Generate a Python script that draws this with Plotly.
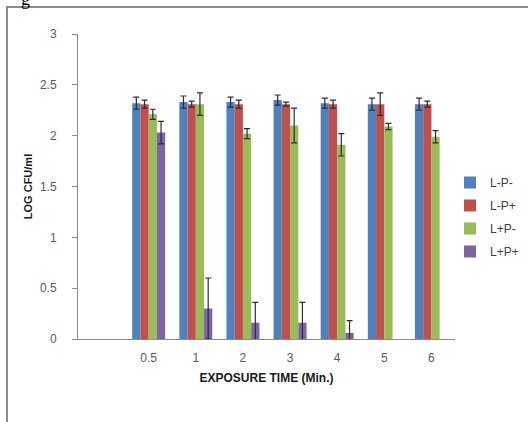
import plotly.graph_objects as go

categories = ["0.5", "1", "2", "3", "4", "5", "6"]
series_names = ["L-P-", "L-P+", "L+P-", "L+P+"]
lp_minus = [2.32, 2.33, 2.33, 2.35, 2.32, 2.31, 2.31]
lp_minus_err = [0.06, 0.06, 0.05, 0.05, 0.05, 0.06, 0.06]
lp_plus = [2.31, 2.31, 2.31, 2.31, 2.31, 2.31, 2.31]
lp_plus_err = [0.04, 0.03, 0.04, 0.02, 0.04, 0.11, 0.03]
lpl_minus = [2.21, 2.31, 2.02, 2.10, 1.91, 2.09, 1.99]
lpl_minus_err = [0.05, 0.11, 0.05, 0.17, 0.11, 0.03, 0.06]
lpl_plus = [2.03, 0.30, 0.16, 0.16, 0.06, None, None]
lpl_plus_err = [0.11, 0.30, 0.20, 0.20, 0.12, None, None]

colors = ["#4F81BD", "#C0504D", "#9BBB59", "#8064A2"]
values = [lp_minus, lp_plus, lpl_minus, lpl_plus]
errors = [lp_minus_err, lp_plus_err, lpl_minus_err, lpl_plus_err]

# first category slot is empty in the original chart
xpos = list(range(1, len(categories) + 1))

fig = go.Figure()
for name, vals, errs, col in zip(series_names, values, errors, colors):
    fig.add_trace(go.Bar(
        x=xpos, y=vals, name=name, legendgroup=name,
        marker_color=col, marker_line_width=0,
        error_y=dict(type="data", array=errs, visible=True,
                     color="#2a2a3a", thickness=1.2, width=3),
    ))

W, H = 528, 422
L, R, T, B = 78, 73, 34, 83
pw, ph = W - L - R, H - T - B

def px_x(p):
    return (p - L) / pw

def px_y(p):
    return (H - B - p) / ph

fig.update_layout(
    width=W, height=H,
    margin=dict(l=L, r=R, t=T, b=B, autoexpand=False),
    paper_bgcolor="white", plot_bgcolor="white",
    barmode="group", bargap=0.3, bargroupgap=0,
    font=dict(family="Liberation Sans, Arial, sans-serif", color="#595959", size=12),
    showlegend=True,
    legend=dict(x=px_x(450), xanchor="left", y=px_y(217), yanchor="middle",
                font=dict(size=12, color="#404040"), tracegroupgap=4,
                itemwidth=30, bgcolor="rgba(0,0,0,0)"),
    xaxis=dict(range=[-0.5, len(categories) + 0.5], tickmode="array",
               tickvals=xpos, ticktext=categories, showgrid=False,
               showline=True, linecolor="#8c8c8c", linewidth=1,
               ticks="", zeroline=False, ticklabelstandoff=8,
               title=dict(text="<b>EXPOSURE TIME (Min.)</b>",
                          font=dict(size=12, color="#1a1a1a"), standoff=9)),
    yaxis=dict(range=[0, 3], tickmode="array",
               tickvals=[0, 0.5, 1, 1.5, 2, 2.5, 3],
               ticktext=["0", "0.5", "1", "1.5", "2", "2.5", "3"],
               showgrid=False, showline=True, linecolor="#8c8c8c", linewidth=1,
               ticks="outside", ticklen=5, tickcolor="#8c8c8c", zeroline=False,
               ticklabelstandoff=13,
               title=dict(text="<b>LOG CFU/ml</b>",
                          font=dict(size=11, color="#1a1a1a"), standoff=5)),
    shapes=[dict(type="rect", xref="paper", yref="paper",
                 x0=px_x(7), x1=px_x(560), y0=px_y(440), y1=px_y(7),
                 line=dict(color="#8a8a8a", width=2), layer="below")],
    annotations=[dict(text="g", xref="paper", yref="paper",
                      x=px_x(25), y=px_y(-1), xanchor="center", yanchor="middle",
                      showarrow=False,
                      font=dict(family="Liberation Serif", size=18, color="black"))],
)

fig.write_html("out.html", config={"displayModeBar": False},
               post_script="document.body.style.margin='0';document.body.style.padding='0';")
